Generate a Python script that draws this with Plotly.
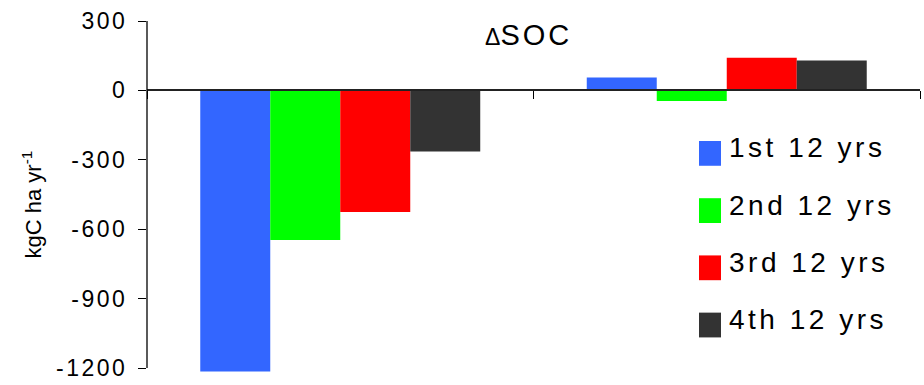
import plotly.graph_objects as go

# Annual change in soil organic carbon (kgC ha-1 yr-1) for two sites,
# split into four consecutive 12-year periods.
sites = ["Site A", "Site B"]
periods = ["1st 12 yrs", "2nd 12 yrs", "3rd 12 yrs", "4th 12 yrs"]
soc_1st = [-1215, 56]
soc_2nd = [-647, -46]
soc_3rd = [-526, 141]
soc_4th = [-264, 129]
period_colors = ["#3366FF", "#00FF00", "#FF0000", "#333333"]
y_ticks = [300, 0, -300, -600, -900, -1200]

series = [soc_1st, soc_2nd, soc_3rd, soc_4th]

# canvas and plot-area geometry (pixels)
W, H = 924, 385
L, R, T, B = 147, 4, 21, 7
plot_w = W - L - R
plot_h = H - T - B
y_min, y_max = -1230, 300


def paper_x(px):
    return (px - L) / plot_w


def paper_y(py):
    return (H - B - py) / plot_h


FONT = "Liberation Sans, Arial, sans-serif"


def spaced(text, ls):
    return f'<span style="letter-spacing:{ls}px">{text}</span>'


fig = go.Figure()
for name, vals, col in zip(periods, series, period_colors):
    fig.add_trace(go.Bar(
        x=sites, y=vals, name=name,
        marker=dict(color=col, line=dict(width=0)),
        showlegend=False,
    ))

shapes = [
    # vertical value axis, from -1200 up to 300
    dict(type="line", xref="paper", yref="y", x0=0, x1=0,
         y0=min(y_ticks), y1=max(y_ticks),
         line=dict(color="black", width=1.3), layer="above"),
]

annotations = [
    dict(text='<span style="font-size:23px">Δ</span>' + spaced("SOC", 3),
         xref="paper", yref="paper", x=paper_x(528), y=paper_y(35),
         xanchor="center", yanchor="middle", showarrow=False,
         font=dict(family=FONT, size=29, color="black")),
    dict(text="kgC ha yr<sup>-1</sup>", textangle=-90,
         xref="paper", yref="paper", x=paper_x(32), y=paper_y(206),
         xanchor="center", yanchor="middle", showarrow=False,
         font=dict(family=FONT, size=22, color="black")),
]

# legend: colour keys with period labels
step = 57.7
for i, (name, col) in enumerate(zip(periods, period_colors)):
    top = 142 + step * i
    shapes.append(dict(type="rect", xref="paper", yref="paper",
                       x0=paper_x(699), x1=paper_x(721),
                       y0=paper_y(top + 25), y1=paper_y(top),
                       fillcolor=col, line=dict(width=0), layer="above"))
    annotations.append(dict(text=spaced(name, 3.5), xref="paper", yref="paper",
                            x=paper_x(727), y=paper_y(top + 7),
                            xanchor="left", yanchor="middle", showarrow=False,
                            font=dict(family=FONT, size=28, color="black")))

fig.update_layout(
    width=W, height=H,
    margin=dict(l=L, r=R, t=T, b=B),
    paper_bgcolor="white", plot_bgcolor="white",
    barmode="group", bargap=0.2756, bargroupgap=0,
    showlegend=False,
    shapes=shapes, annotations=annotations,
    xaxis=dict(
        type="category", anchor="free",
        position=(0 - y_min) / (y_max - y_min),
        showline=True, linecolor="#222222", linewidth=1.8,
        ticks="outside", tickson="boundaries", ticklen=8,
        tickcolor="black", tickwidth=1.3,
        showticklabels=False, showgrid=False, zeroline=False,
    ),
    yaxis=dict(
        range=[y_min, y_max],
        tickvals=y_ticks, ticktext=[spaced(str(v), 2.5) for v in y_ticks],
        ticks="outside", ticklen=8, tickcolor="black", tickwidth=1.3,
        showline=False, showgrid=False, zeroline=False,
        tickfont=dict(family=FONT, size=23, color="black"),
        ticklabelstandoff=6,
    ),
)

fig.write_html("out.html")
